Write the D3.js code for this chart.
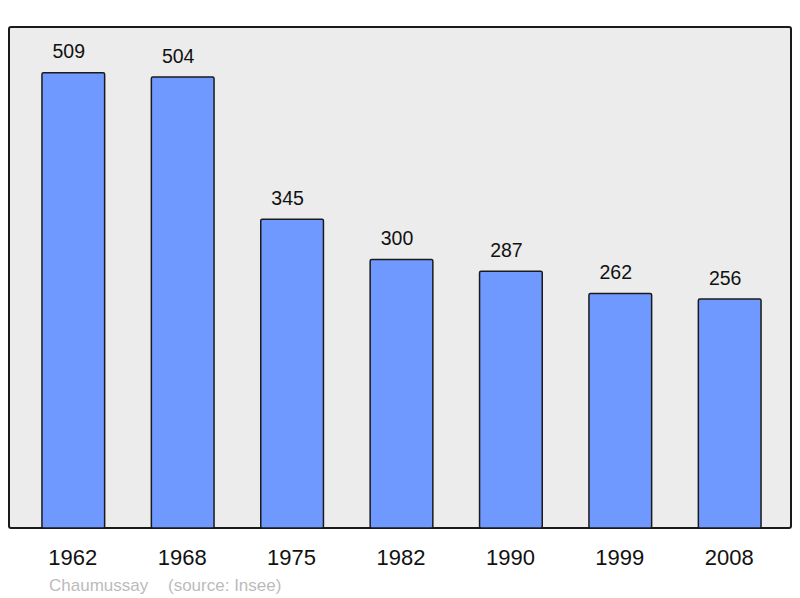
<!DOCTYPE html>
<html>
<head>
<meta charset="utf-8">
<script src="https://cdn.jsdelivr.net/npm/d3@7"></script>
<style>
  body { margin: 0; background: #fff; }
  text { font-family: "Liberation Sans", Arial, sans-serif; }
</style>
</head>
<body>
<svg width="800" height="598"></svg>
<script>
const years = ["1962", "1968", "1975", "1982", "1990", "1999", "2008"]
const population = [509, 504, 345, 300, 287, 262, 256]
const commune = "Chaumussay"
const source = "(source: Insee)"

const svg = d3.select("svg")

const panel = {left: 9, top: 27, right: 791, bottom: 528}

svg.append("rect")
    .attr("x", panel.left)
    .attr("y", panel.top)
    .attr("width", panel.right - panel.left)
    .attr("height", panel.bottom - panel.top)
    .attr("rx", 2)
    .style("fill", "#ececec")
    .style("stroke", "#1a1a1a")
    .style("stroke-width", 2)

var x = d3.scaleBand()
    .domain(years)
    .range([18.6, 784.4])
    .paddingInner(0.427)
    .paddingOuter(0.2135)

var y = d3.scaleLinear()
    .domain([0, 560])
    .range([panel.bottom, panel.top])

svg.append("g")
    .selectAll("rect")
    .data(population)
    .enter()
    .append("rect")
    .attr("x", (d, i) => x(years[i]))
    .attr("y", d => y(d))
    .attr("width", x.bandwidth())
    .attr("height", d => y(0) - y(d))
    .attr("rx", 1.5)
    .style("fill", "#7099ff")
    .style("stroke", "#1a1a1a")
    .style("stroke-width", 1.5)

// value labels sit a little left of the bar centre in the original
svg.append("g")
    .selectAll("text")
    .data(population)
    .enter()
    .append("text")
    .attr("x", (d, i) => x(years[i]) + x.bandwidth() / 2 - 4.5)
    .attr("y", d => y(d) - 14.3)
    .attr("text-anchor", "middle")
    .style("font-size", "19.5px")
    .style("fill", "#111")
    .text(d => d)

svg.append("g")
    .selectAll("text")
    .data(years)
    .enter()
    .append("text")
    .attr("x", d => x(d) + x.bandwidth() / 2 - 0.5)
    .attr("y", 565)
    .attr("text-anchor", "middle")
    .style("font-size", "22px")
    .style("fill", "#111")
    .text(d => d)

svg.append("text")
    .attr("x", 49)
    .attr("y", 590.5)
    .style("font-size", "17px")
    .style("fill", "#bbb")
    .text(commune)

svg.append("text")
    .attr("x", 168)
    .attr("y", 590.5)
    .style("font-size", "17px")
    .style("fill", "#bbb")
    .text(source)
</script>
</body>
</html>
